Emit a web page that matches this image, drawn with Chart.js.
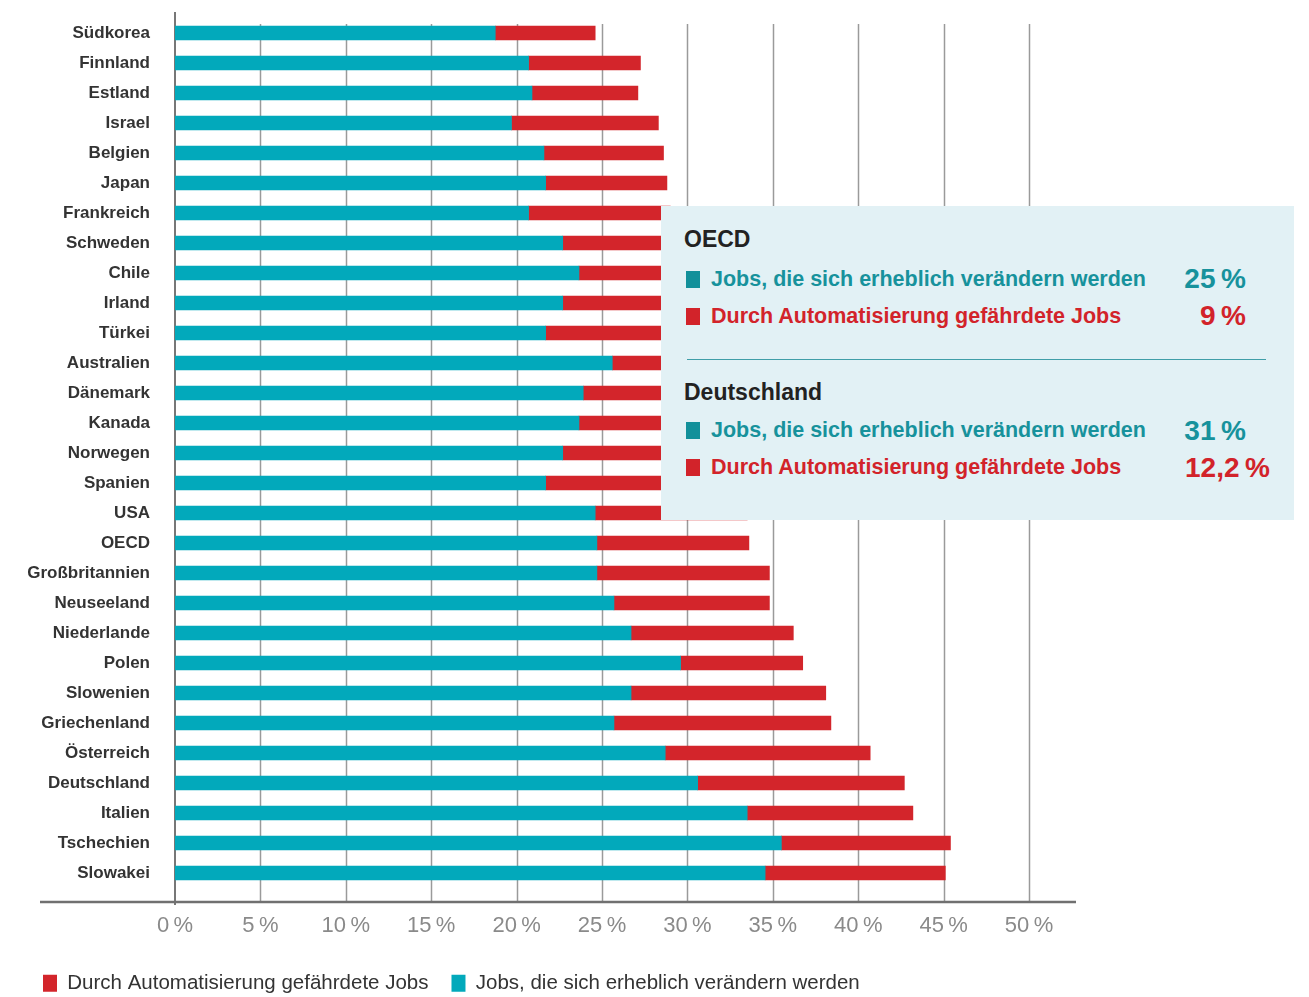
<!DOCTYPE html>
<html lang="de">
<head>
<meta charset="utf-8">
<script src="https://cdn.jsdelivr.net/npm/chart.js@4.4.0/dist/chart.umd.min.js"></script>
<style>
  html, body { margin: 0; padding: 0; background: #fff; }
  #wrap { position: relative; width: 1309px; height: 997px; }
  #jobsChart { position: absolute; left: 0; top: 0; }
  .box {
    position: absolute; left: 661px; top: 206px; width: 633px; height: 314px;
    background: #e2f1f5; font-family: "Liberation Sans", Arial, sans-serif; font-weight: bold;
  }
  .box div { position: absolute; white-space: nowrap; }
  .head { left: 23px; font-size: 23px; line-height: 23px; color: #222; }
  .sq { left: 25px; width: 14px; height: 17px; }
  .txt { left: 50px; font-size: 21.5px; line-height: 21.5px; }
  .val { font-size: 28px; line-height: 28px; text-align: right; }
  .teal { color: #17929c; }
  .red { color: #d2232a; }
  .sq.teal { background: #12909a; }
  .sq.red { background: #d2232a; }
  .rule { left: 26px; width: 579px; top: 153px; height: 0; border-top: 1.5px solid #3f9ea8; }
</style>
</head>
<body>
<div id="wrap">
  <canvas id="jobsChart" width="1309" height="997"></canvas>
  <div class="box">
    <div class="head" style="top:22px">OECD</div>
    <div class="sq teal" style="top:65px"></div>
    <div class="txt teal" style="top:63px">Jobs, die sich erheblich verändern werden</div>
    <div class="val teal" style="top:59px; right:48px">25&#8201;%</div>
    <div class="sq red" style="top:102px"></div>
    <div class="txt red" style="top:100px">Durch Automatisierung gefährdete Jobs</div>
    <div class="val red" style="top:96px; right:48px">9&#8201;%</div>
    <div class="rule"></div>
    <div class="head" style="top:175px">Deutschland</div>
    <div class="sq teal" style="top:216px"></div>
    <div class="txt teal" style="top:214px">Jobs, die sich erheblich verändern werden</div>
    <div class="val teal" style="top:211px; right:48px">31&#8201;%</div>
    <div class="sq red" style="top:253px"></div>
    <div class="txt red" style="top:251px">Durch Automatisierung gefährdete Jobs</div>
    <div class="val red" style="top:248px; right:24px">12,2&#8201;%</div>
  </div>
</div>
<script>
// Länder, von oben nach unten
const countries = ['Südkorea', 'Finnland', 'Estland', 'Israel', 'Belgien', 'Japan', 'Frankreich',
  'Schweden', 'Chile', 'Irland', 'Türkei', 'Australien', 'Dänemark', 'Kanada', 'Norwegen',
  'Spanien', 'USA', 'OECD', 'Großbritannien', 'Neuseeland', 'Niederlande', 'Polen', 'Slowenien',
  'Griechenland', 'Österreich', 'Deutschland', 'Italien', 'Tschechien', 'Slowakei'];

// Jobs, die sich erheblich verändern werden (%)
const changeShare = [18.75, 20.7, 20.9, 19.7, 21.6, 21.7, 20.7,
  22.7, 23.65, 22.7, 21.7, 25.6, 23.9, 23.65, 22.7,
  21.7, 24.6, 24.7, 24.7, 25.7, 26.7, 29.6, 26.7,
  25.7, 28.7, 30.6, 33.5, 35.5, 34.55];

// Durch Automatisierung gefährdete Jobs (%)
const riskShare = [5.85, 6.55, 6.2, 8.6, 7.0, 7.1, 8.3,
  6.6, 5.9, 7.2, 8.5, 5.0, 7.1, 7.85, 9.3,
  11.1, 8.9, 8.9, 10.1, 9.1, 9.5, 7.15, 11.4,
  12.7, 12.0, 12.1, 9.7, 9.9, 10.55];

const xTicks = [0, 5, 10, 15, 20, 25, 30, 35, 40, 45, 50];
const xMax = 52.75;

const fontFamily = '"Liberation Sans", Arial, sans-serif';

// Gitterlinien und Achsen wie im Original (etwas über den Plotbereich hinaus)
const gridPlugin = {
  id: 'gridLines',
  beforeDatasetsDraw(chart) {
    const ctx = chart.ctx;
    const area = chart.chartArea;
    const x = chart.scales.x;
    ctx.save();
    ctx.strokeStyle = '#9a9a9a';
    ctx.lineWidth = 1.5;
    xTicks.forEach(function(v) {
      if (v === 0) return;
      const px = Math.round(x.getPixelForValue(v)) + 0.5;
      ctx.beginPath();
      ctx.moveTo(px, area.top + 6);
      ctx.lineTo(px, area.bottom + 14);
      ctx.stroke();
    });
    const x0 = x.getPixelForValue(0);
    ctx.strokeStyle = '#777';
    ctx.lineWidth = 2;
    ctx.beginPath();
    ctx.moveTo(x0, area.top - 6);
    ctx.lineTo(x0, area.bottom + 17);
    ctx.stroke();
    ctx.strokeStyle = '#707070';
    ctx.lineWidth = 2.5;
    ctx.beginPath();
    ctx.moveTo(40, area.bottom + 14);
    ctx.lineTo(area.right, area.bottom + 14);
    ctx.stroke();
    ctx.restore();
  }
};

const chart = new Chart(document.getElementById('jobsChart'), {
  type: 'bar',
  data: {
    labels: countries,
    datasets: [{
      label: 'Jobs, die sich erheblich verändern werden',
      data: changeShare,
      backgroundColor: '#02a9bb',
      borderWidth: 0,
      barThickness: 14
    }, {
      label: 'Durch Automatisierung gefährdete Jobs',
      data: riskShare,
      backgroundColor: '#d3252b',
      borderWidth: 0,
      barThickness: 14
    }]
  },
  options: {
    indexAxis: 'y',
    responsive: false,
    animation: false,
    layout: { padding: { top: 18, left: 20, right: 233, bottom: 0 } },
    plugins: {
      legend: {
        position: 'bottom',
        align: 'start',
        reverse: true,
        maxHeight: 47,
        labels: {
          boxWidth: 14,
          boxHeight: 17,
          padding: 23,
          color: '#333',
          font: { family: fontFamily, size: 20.5 }
        }
      },
      tooltip: { enabled: false }
    },
    scales: {
      x: {
        stacked: true,
        min: 0,
        max: xMax,
        grid: { display: false, drawTicks: false },
        border: { display: false },
        afterBuildTicks: function(scale) {
          scale.ticks = xTicks.map(function(v) { return { value: v }; });
        },
        afterFit: function(scale) { scale.height = 62; },
        ticks: {
          padding: 25,
          color: '#8a8a8a',
          font: { family: fontFamily, size: 22 },
          callback: function(v) { return v + '\u2009%'; }
        }
      },
      y: {
        stacked: true,
        grid: { display: false, drawTicks: false },
        border: { display: false },
        afterFit: function(scale) {
          scale.width = 155;
          scale.paddingTop = 0;
          scale.paddingBottom = 0;
        },
        ticks: {
          padding: 25,
          color: '#333',
          font: { family: fontFamily, size: 17, weight: 'bold' }
        }
      }
    }
  },
  plugins: [gridPlugin]
});
</script>
</body>
</html>
